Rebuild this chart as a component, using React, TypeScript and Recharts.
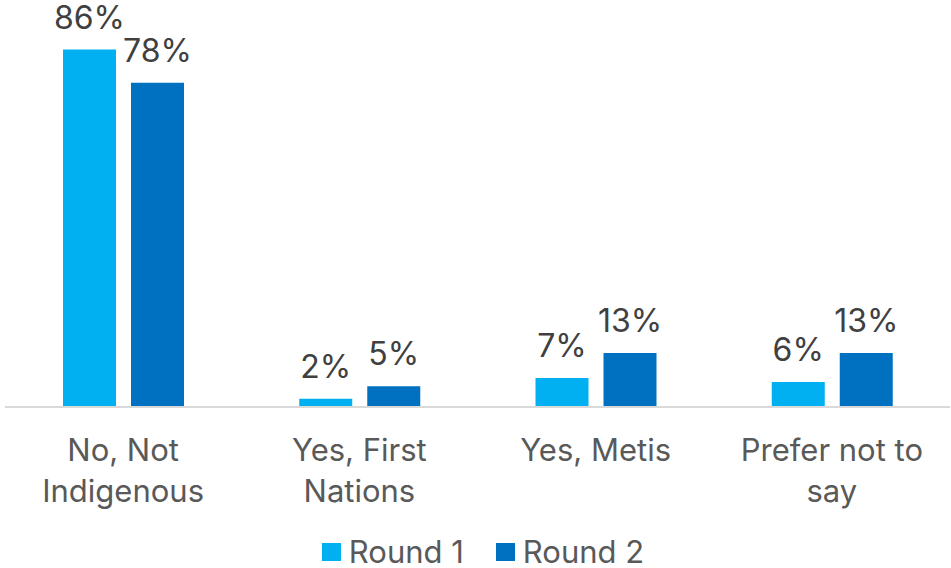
import { Bar, BarChart, LabelList, XAxis, YAxis } from "recharts";

const categories = ["No, Not Indigenous", "Yes, First Nations", "Yes, Metis", "Prefer not to say"];
const tickLines = [["No, Not", "Indigenous"], ["Yes, First", "Nations"], ["Yes, Metis"], ["Prefer not to", "say"]];
const round1 = [86, 2, 7, 6];
const round2 = [78, 5, 13, 13];
const seriesNames = ["Round 1", "Round 2"];

const data = categories.map((name, i) => ({ name, r1: round1[i], r2: round2[i] }));

const FONT = "Inter, sans-serif";
const LIGHT = "#00B0F0";
const DARK = "#0070C0";

function CategoryTick({ x, y, payload }: any) {
  const idx = categories.indexOf(payload.value);
  const lines = tickLines[idx] ?? [payload.value];
  return (
    <g>
      {lines.map((ln, i) => (
        <text
          key={i}
          x={x}
          y={y + 46 + i * 41}
          textAnchor="middle"
          fill="#595959"
          fontSize={31}
          fontFamily={FONT}
        >
          {ln}
        </text>
      ))}
    </g>
  );
}

function LegendRow() {
  const colors = [LIGHT, DARK];
  return (
    <div
      style={{
        position: "absolute",
        left: 0,
        top: 536,
        width: 966,
        display: "flex",
        justifyContent: "center",
        gap: 32,
        fontFamily: FONT,
        fontSize: 31,
        lineHeight: "32px",
        color: "#595959",
      }}
    >
      {seriesNames.map((s, i) => (
        <div key={s} style={{ display: "flex", alignItems: "center", gap: 8 }}>
          <span style={{ width: 19, height: 18, background: colors[i], display: "inline-block" }} />
          <span>{s}</span>
        </div>
      ))}
    </div>
  );
}

export default function App() {
  return (
    <div style={{ position: "absolute", left: 0, top: 0, width: 951, height: 568, background: "#fff" }}>
      <BarChart
        width={951}
        height={568}
        data={data}
        margin={{ top: 33, right: 1, left: 5, bottom: 0 }}
        barSize={53}
        barGap={15}
      >
        <XAxis
          dataKey="name"
          axisLine={{ stroke: "#D9D9D9", strokeWidth: 2 }}
          tickLine={false}
          tick={<CategoryTick />}
          interval={0}
          height={161}
        />
        <YAxis hide domain={[0, 90]} />
        <Bar dataKey="r1" name={seriesNames[0]} fill={LIGHT} isAnimationActive={false}>
          <LabelList dataKey="r1" position="top" offset={21} formatter={(v: any) => `${v}%`} fill="#404040" fontSize={32} fontFamily={FONT} />
        </Bar>
        <Bar dataKey="r2" name={seriesNames[1]} fill={DARK} isAnimationActive={false}>
          <LabelList dataKey="r2" position="top" offset={21} formatter={(v: any) => `${v}%`} fill="#404040" fontSize={32} fontFamily={FONT} />
        </Bar>
      </BarChart>
      <LegendRow />
    </div>
  );
}
